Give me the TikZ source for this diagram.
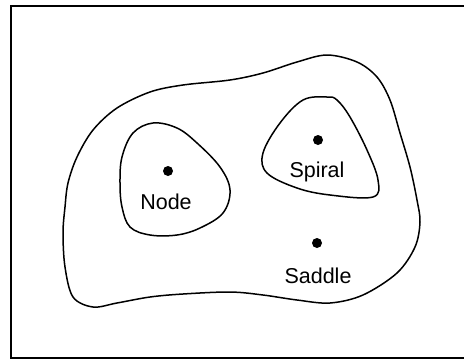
\documentclass[tikz,border=0pt]{standalone}
\usepackage{fontspec}
\setmainfont{Liberation Sans}
\usepackage{tikz}
\usetikzlibrary{calc}

\tikzset{
	fixpt/.style={circle, fill=black, inner sep=0pt, minimum size=10pt},
	lbl/.style={font=\fontsize{21.5}{24}\selectfont, inner sep=0pt},
	loop/.style={line width=1.5pt, line join=round}
}

\begin{document}
\begin{tikzpicture}[x=1pt, y=-1pt]
		
		\useasboundingbox (0,0) rectangle (464,360);
		
		% frame
		\draw[line width=2.6pt] (475,6) -- (11,6) -- (11,358) -- (475,358);
		
		% outer closed orbit
		\draw[loop] plot[smooth cycle, tension=0.55] coordinates {
			(65,207) (68,183) (77,157) (93,130) (117,108) (150,92) (183,85)
			(230,80) (263,73) (297,62) (327,55) (357,62) (377,77) (390,100)
			(400,133) (410,167) (417,200) (420,222) (415,247) (397,273)
			(363,295) (330,303) (297,300) (263,295) (230,292) (183,294)
			(150,297) (117,303) (93,307) (73,297) (65,267) (63,233)};
		
		% loop round the node
		\draw[loop] plot[smooth cycle, tension=0.6] coordinates {
			(153,123) (177,128) (197,143) (220,167) (230,190) (223,213)
			(200,228) (177,235) (150,235) (130,227) (122,207) (120,183)
			(122,157) (133,133)};
		
		% loop round the spiral
		\draw[loop] plot[smooth cycle, tension=0.6] coordinates {
			(327,97) (337,100) (350,117) (367,150) (378,180) (373,197)
			(330,195) (297,188) (267,173) (263,153) (280,123) (303,100)};
		
		% fixed points
		\node[fixpt] (nodept) at (168,171) {};
		\node[fixpt] (spiralpt) at (318,140) {};
		\node[fixpt] (saddlept) at (317,243) {};
		
		% labels
		\node[lbl] (nodelbl) at (166,202) {Node};
		\node[lbl] (spirallbl) at (317,172) {Spiral};
		\node[lbl] (saddlelbl) at (318,276) {Saddle};
		
	\end{tikzpicture}
\end{document}
